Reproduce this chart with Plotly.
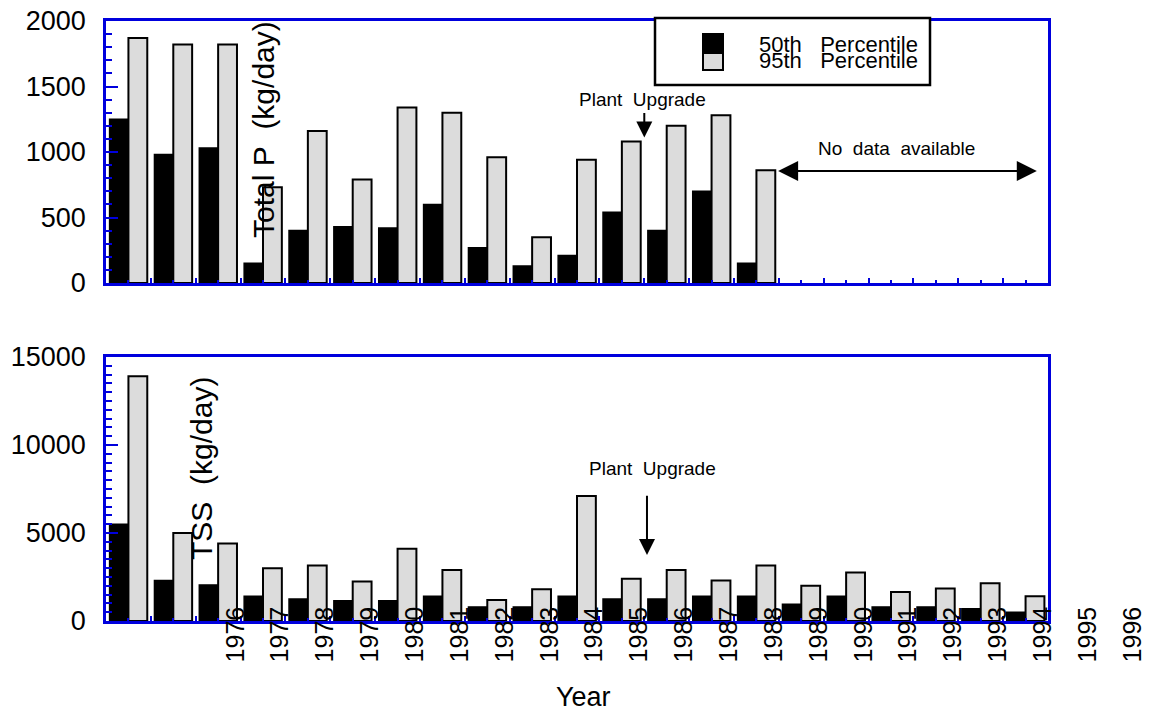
import plotly.graph_objects as go

# ---------------- data ----------------
years = list(range(1976, 1997))           # 21 annual groups
tick_labels = [str(y) for y in years]

years_p = years[:15]                      # Total P only available for first 15 years
p50 = [1250, 980, 1030, 150, 400, 430, 420, 600, 270, 130, 210, 540, 400, 700, 150]
p95 = [1870, 1820, 1820, 730, 1160, 790, 1340, 1300, 960, 350, 940, 1080, 1200, 1280, 860]

tss50 = [5500, 2300, 2050, 1400, 1250, 1150, 1150, 1400, 800, 800, 1400,
         1250, 1250, 1400, 1400, 950, 1400, 800, 800, 700, 500]
tss95 = [13900, 5000, 4400, 3000, 3150, 2250, 4100, 2900, 1200, 1800, 7100,
         2400, 2900, 2300, 3150, 2000, 2750, 1650, 1850, 2150, 1400]

series_names = ["50th Percentile", "95th Percentile"]

# ---------------- style ----------------
FONT = "Arial, Liberation Sans, sans-serif"
BLUE = "#0000dd"
GREY = "#dcdcdc"
OFF = 8                      # page body margin
W, H = 1153 - OFF, 715 - OFF
ML, MT = 106 - OFF, 21 - OFF
MR = W - (1048 - OFF)
MB = H - (621 - OFF)
PW, PH = W - ML - MR, H - MT - MB

def px_x(v):                 # page pixel -> paper fraction
    return (v - OFF - ML) / PW

def px_y(v):
    return (H - MB - (v - OFF)) / PH

fig = go.Figure()

def add_bars(x, y50, y95, xa, ya):
    fig.add_trace(go.Bar(x=x, y=y50, name=series_names[0], marker_color="black",
                         marker_line=dict(color="black", width=1.5),
                         xaxis=xa, yaxis=ya, showlegend=False))
    fig.add_trace(go.Bar(x=x, y=y95, name=series_names[1], marker_color=GREY,
                         marker_line=dict(color="black", width=2),
                         xaxis=xa, yaxis=ya, showlegend=False))

add_bars(years_p, p50, p95, "x", "y")
add_bars(years, tss50, tss95, "x2", "y2")

xrange = [years[0] - 0.5, years[-1] + 0.5]

xcommon = dict(range=xrange, showline=True, linecolor=BLUE, linewidth=2.5, mirror=True,
               ticks="inside", ticklen=3, tickwidth=2, tickcolor=BLUE,
               tickmode="array", tickvals=years, ticktext=tick_labels,
               minor=dict(tick0=years[0] - 0.5, dtick=1, ticks="inside", ticklen=5,
                          tickwidth=2, tickcolor=BLUE),
               showgrid=False, zeroline=False, automargin=False)

ycommon = dict(showline=True, linecolor=BLUE, linewidth=2.5, mirror=True,
               ticks="inside", ticklen=12, tickwidth=2, tickcolor=BLUE,
               showgrid=False, zeroline=False, automargin=False, tickformat="d",
               tickfont=dict(family=FONT, size=27, color="black"),
               ticklabelstandoff=12, ticklabeloverflow="allow")

top_dom = [px_y(283), 1]
bot_dom = [0, px_y(357)]

fig.update_layout(
    width=W, height=H,
    margin=dict(l=ML, r=MR, t=MT, b=MB, autoexpand=False),
    paper_bgcolor="white", plot_bgcolor="white",
    barmode="group", bargap=0.16, bargroupgap=0,
    font=dict(family=FONT, color="black"),
    xaxis=dict(xcommon, anchor="y", domain=[0, 1], showticklabels=False),
    yaxis=dict(ycommon, anchor="x", domain=top_dom, range=[0, 2000],
               tickvals=[0, 500, 1000, 1500, 2000],
               minor=dict(dtick=100, ticks="inside", ticklen=6, tickwidth=2, tickcolor=BLUE)),
    xaxis2=dict(xcommon, anchor="y2", domain=[0, 1], showticklabels=True,
                tickangle=-90, tickfont=dict(family=FONT, size=25, color="black"),
                ticklabelshift=107, ticklabelstandoff=-27, ticklabeloverflow="allow"),
    yaxis2=dict(ycommon, anchor="x2", domain=bot_dom, range=[0, 15000],
                tickvals=[0, 5000, 10000, 15000],
                minor=dict(dtick=500, ticks="inside", ticklen=6, tickwidth=2, tickcolor=BLUE)),
)

# ---------------- axis titles (drawn inside plot as in original) ----------------
fig.add_annotation(text="Total P\u00a0\u00a0(kg/day)", xref="paper", yref="paper",
                   x=px_x(264), y=px_y(130), xanchor="center", yanchor="middle",
                   textangle=-90, showarrow=False, font=dict(size=30, family=FONT))
fig.add_annotation(text="TSS\u00a0\u00a0(kg/day)", xref="paper", yref="paper",
                   x=px_x(202), y=px_y(469), xanchor="center", yanchor="middle",
                   textangle=-90, showarrow=False, font=dict(size=30, family=FONT))
fig.add_annotation(text="Year", xref="paper", yref="paper",
                   x=px_x(583), y=px_y(697), xanchor="center", yanchor="middle",
                   showarrow=False, font=dict(size=27, family=FONT))

# ---------------- annotations ----------------
ann_font = dict(size=19, family=FONT, color="black")
# top panel: plant upgrade
fig.add_annotation(text="Plant\u00a0\u00a0Upgrade", x=1987.47, y=1400, xref="x", yref="y",
                   xanchor="center", yanchor="middle", showarrow=False, font=ann_font)
fig.add_annotation(text="", x=1987.5, y=1110, ax=1987.5, ay=1310, xref="x", yref="y",
                   axref="x", ayref="y", showarrow=True, arrowhead=2, arrowwidth=2,
                   arrowsize=1.6, arrowcolor="black")
# top panel: no data
fig.add_annotation(text="No\u00a0\u00a0data\u00a0\u00a0available", x=1993.13, y=1025,
                   xref="x", yref="y", xanchor="center", yanchor="middle",
                   showarrow=False, font=ann_font)
fig.add_annotation(text="", x=1996.25, y=855, ax=1990.45, ay=855, xref="x", yref="y",
                   axref="x", ayref="y", showarrow=True, arrowhead=2, startarrowhead=2,
                   arrowside="end+start", arrowwidth=2, arrowsize=2, startarrowsize=2,
                   arrowcolor="black")
# bottom panel: plant upgrade
fig.add_annotation(text="Plant\u00a0\u00a0Upgrade", x=1987.69, y=8640, xref="x2", yref="y2",
                   xanchor="center", yanchor="middle", showarrow=False, font=ann_font)
fig.add_annotation(text="", x=1987.56, y=3750, ax=1987.56, ay=7200, xref="x2", yref="y2",
                   axref="x2", ayref="y2", showarrow=True, arrowhead=2, arrowwidth=2,
                   arrowsize=1.6, arrowcolor="black")

# ---------------- manual legend ----------------
fig.add_shape(type="rect", xref="paper", yref="paper",
              x0=px_x(655), x1=px_x(930), y0=px_y(85), y1=px_y(18),
              line=dict(color="black", width=2.5), fillcolor="white", layer="above")
fig.add_shape(type="rect", xref="paper", yref="paper",
              x0=px_x(703), x1=px_x(723), y0=px_y(53), y1=px_y(34),
              line=dict(color="black", width=2), fillcolor="black", layer="above")
fig.add_shape(type="rect", xref="paper", yref="paper",
              x0=px_x(703), x1=px_x(723), y0=px_y(70), y1=px_y(53),
              line=dict(color="black", width=2), fillcolor=GREY, layer="above")
leg_font = dict(size=22, family=FONT, color="black")
fig.add_annotation(text="50th\u00a0\u00a0\u00a0Percentile", xref="paper", yref="paper",
                   x=px_x(757), y=px_y(44), xanchor="left", yanchor="middle",
                   showarrow=False, font=leg_font)
fig.add_annotation(text="95th\u00a0\u00a0\u00a0Percentile", xref="paper", yref="paper",
                   x=px_x(757), y=px_y(61), xanchor="left", yanchor="middle",
                   showarrow=False, font=leg_font)

fig.write_html("out.html")
